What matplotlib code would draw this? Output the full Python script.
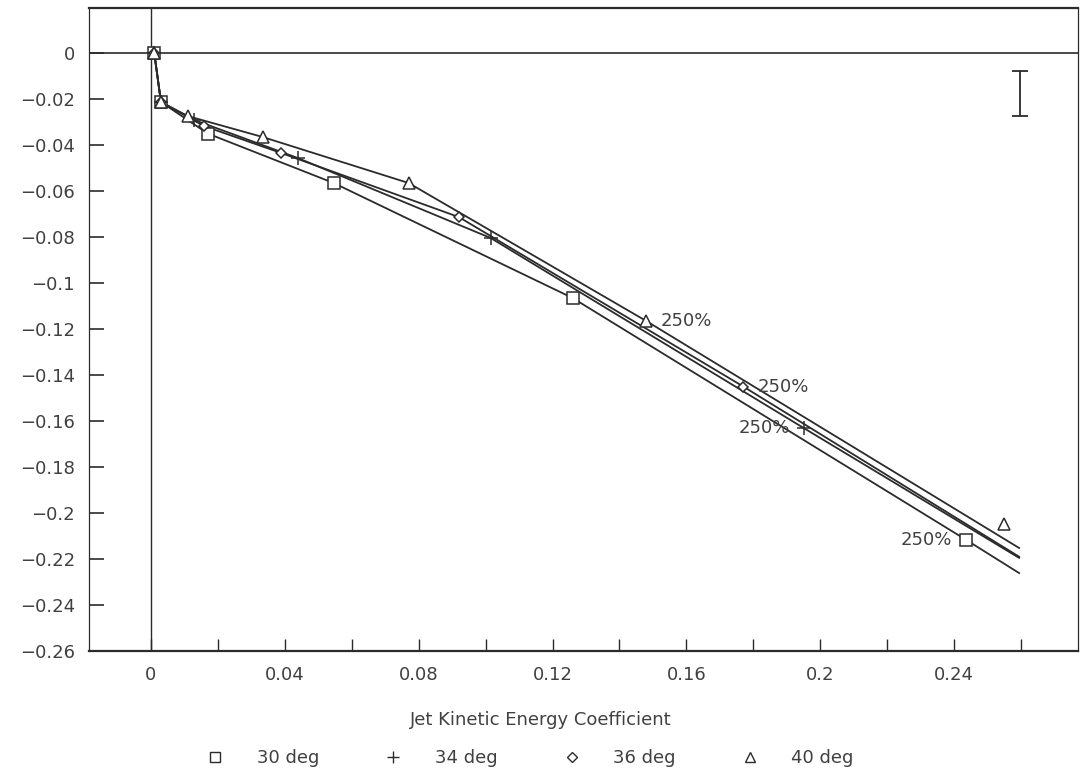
import matplotlib
matplotlib.use('Agg')
import matplotlib.pyplot as plt
from matplotlib.lines import Line2D

# marker data (x = jet kinetic energy coefficient)
sq_x = [0.001, 0.003, 0.017, 0.0546, 0.126, 0.2436]
sq_y = [0.0, -0.0213, -0.0350, -0.0565, -0.1065, -0.2117]
pl_x = [0.001, 0.003, 0.0128, 0.044, 0.1015, 0.195]
pl_y = [0.0, -0.0213, -0.0290, -0.0457, -0.0804, -0.1630]
di_x = [0.001, 0.003, 0.0158, 0.039, 0.092, 0.177]
di_y = [0.0, -0.0213, -0.0317, -0.0435, -0.0713, -0.1450]
tr_x = [0.001, 0.003, 0.011, 0.0334, 0.077, 0.148, 0.255]
tr_y = [0.0, -0.0213, -0.0274, -0.0365, -0.0565, -0.1165, -0.2048]

series_names = ['30 deg', '34 deg', '36 deg', '40 deg']
label_idx = 5            # point marked "250%"
label_text = '250%'
label_side = ['left', 'left', 'right', 'right']

# where the drawn curves stop on the right
line_end_x = 0.2594
line_end_y = [-0.2261, -0.2195, -0.2190, -0.2152]

# scatter bar top right
err_x = 0.2597
err_y = -0.0176
err_half = 0.0098

x_ticks = [0, 0.04, 0.08, 0.12, 0.16, 0.2, 0.24]
x_tick_labels = ['0', '0.04', '0.08', '0.12', '0.16', '0.2', '0.24']
x_minor = [0.02, 0.06, 0.10, 0.14, 0.18, 0.22, 0.26]
y_ticks = [0, -0.02, -0.04, -0.06, -0.08, -0.1, -0.12, -0.14, -0.16,
           -0.18, -0.2, -0.22, -0.24, -0.26]
y_tick_labels = ['0', '\u22120.02', '\u22120.04', '\u22120.06', '\u22120.08',
                 '\u22120.1', '\u22120.12', '\u22120.14', '\u22120.16',
                 '\u22120.18', '\u22120.2', '\u22120.22', '\u22120.24',
                 '\u22120.26']

ink = '#2b2b2b'
txt = '#404040'
fs = 13

fig = plt.figure(figsize=(10.81, 7.74), dpi=100)
ax = fig.add_axes([89 / 1081, 123 / 774, 989 / 1081, 643 / 774])

xs = [sq_x, pl_x, di_x, tr_x]
ys = [sq_y, pl_y, di_y, tr_y]
markers = ['s', '+', 'D', '^']
msizes = [8.5, 10, 5.5, 8.5]

for i in range(4):
    lx = xs[i][:label_idx + 1] + [line_end_x]
    ly = ys[i][:label_idx + 1] + [line_end_y[i]]
    ax.plot(lx, ly, color=ink, lw=1.3, zorder=2)
    ax.plot(xs[i], ys[i], ls='none', marker=markers[i], ms=msizes[i],
            mfc='white', mec=ink, mew=1.1, zorder=3)
    if label_side[i] == 'right':
        off, ha = (10, 0), 'left'
    else:
        off, ha = (-10, 0), 'right'
    ax.annotate(label_text, (xs[i][label_idx], ys[i][label_idx]),
                xytext=off, textcoords='offset points', ha=ha, va='center',
                fontsize=fs, color=txt, zorder=4)

ax.errorbar([err_x], [err_y], yerr=[err_half], fmt='none', ecolor=ink,
            elinewidth=1.3, capsize=6, capthick=1.3)

ax.axhline(0, color=ink, lw=1.2, zorder=1)
ax.axvline(0, color=ink, lw=1.0, zorder=1)

ax.set_xlim(-0.0185, 0.277)
ax.set_ylim(-0.26, 0.0196)

ax.set_xticks(x_ticks)
ax.set_xticklabels(x_tick_labels)
ax.set_xticks(x_minor, minor=True)
ax.set_yticks(y_ticks)
ax.set_yticklabels(y_tick_labels)

ax.tick_params(axis='x', which='both', direction='in', length=9, width=1,
               color=ink, labelsize=fs, labelcolor=txt, pad=11)
ax.tick_params(axis='y', direction='in', length=11, width=1.2, color=ink,
               labelsize=fs, labelcolor=txt, pad=10)

for side in ['left', 'right']:
    ax.spines[side].set_linewidth(0.9)
    ax.spines[side].set_color(ink)
for side in ['top', 'bottom']:
    ax.spines[side].set_linewidth(1.6)
    ax.spines[side].set_color(ink)

fig.text(0.5, 1 - 720 / 774, 'Jet Kinetic Energy Coefficient', ha='center',
         va='center', fontsize=fs, color=txt)

handles = [Line2D([], [], ls='none', marker=markers[i], ms=msizes[i] * 0.85,
                  mfc='white', mec=ink, mew=1.0) for i in range(4)]
fig.legend(handles, series_names, loc='center',
           bbox_to_anchor=(530 / 1081, 1 - 758 / 774),
           ncol=4, frameon=False, fontsize=fs, labelcolor=txt,
           handlelength=1.0, handletextpad=1.8, columnspacing=3.6)

fig.savefig('out.png', dpi=100)
